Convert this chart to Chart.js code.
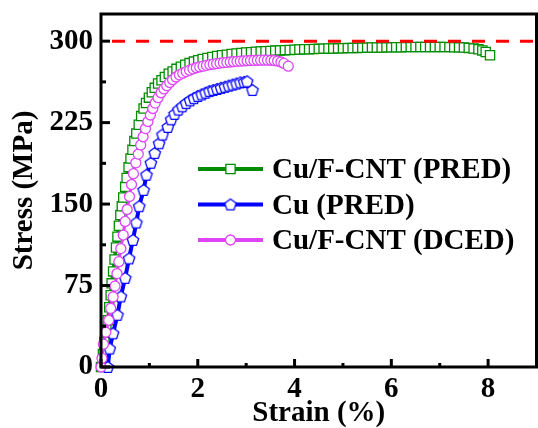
<!DOCTYPE html>
<html>
<head>
<meta charset="utf-8">
<script src="https://cdn.jsdelivr.net/npm/chart.js@4.4.1/dist/chart.umd.min.js"></script>
<style>
  html, body { margin: 0; padding: 0; background: #fff; }
  #wrap { width: 538px; height: 428px; }
</style>
</head>
<body>
<div id="wrap"><canvas id="c" width="538" height="428"></canvas></div>
<script>
// ---- data ----
const seriesNames = ['Cu/F-CNT (PRED)', 'Cu (PRED)', 'Cu/F-CNT (DCED)'];

const fcntPredStrain = [0.00,0.04,0.07,0.11,0.14,0.17,0.20,0.22,0.25,0.28,0.31,0.34,0.37,0.40,0.43,0.46,0.50,0.53,0.57,0.61,0.65,0.69,0.73,0.78,0.83,0.88,0.93,0.99,1.05,1.11,1.18,1.25,1.32,1.40,1.48,1.56,1.65,1.74,1.83,1.92,2.01,2.10,2.20,2.30,2.40,2.50,2.60,2.70,2.80,2.90,3.00,3.10,3.20,3.30,3.40,3.50,3.60,3.70,3.80,3.90,4.00,4.10,4.20,4.30,4.40,4.50,4.60,4.70,4.80,4.90,5.00,5.10,5.20,5.30,5.40,5.50,5.60,5.70,5.80,5.90,6.00,6.10,6.20,6.30,6.40,6.50,6.60,6.70,6.80,6.90,7.00,7.10,7.20,7.30,7.40,7.50,7.60,7.70,7.80,7.88,7.95,8.04];
const fcntPredStress = [0,12,23,34,43,55,66,77,88,99,110,120,130,140,148,156,166,174,184,192,200,208,215,223,231,238,243,248,253,257,261,264,267,270,272,274.5,276.5,278.3,279.8,281.2,282.5,283.6,284.6,285.5,286.3,287,287.6,288.2,288.7,289.1,289.5,289.9,290.2,290.5,290.8,291,291.3,291.5,291.7,291.9,292.1,292.3,292.5,292.6,292.8,292.9,293.1,293.2,293.3,293.4,293.5,293.6,293.7,293.8,293.9,294,294.1,294.2,294.2,294.3,294.3,294.4,294.4,294.5,294.5,294.6,294.6,294.6,294.6,294.6,294.6,294.6,294.5,294.4,294.3,294.1,293.8,293.3,292.6,291.5,290,287];

const cuPredStrain = [0.14,0.18,0.25,0.34,0.41,0.50,0.58,0.66,0.73,0.79,0.88,0.94,1.03,1.11,1.20,1.27,1.38,1.45,1.52,1.60,1.68,1.76,1.84,1.92,2.00,2.08,2.16,2.24,2.32,2.40,2.48,2.56,2.64,2.72,2.80,2.88,2.96,3.02,3.13];
const cuPredStress = [0,17,31,48,65,82,100,117,133,148,163,177,188,197,206,214,221,228,233,237,240,243,245.5,247.5,249.5,251,252.5,254,255,256,257,258,259,260,261,262,262.5,263,255];

const fcntDcedStrain = [0.00,0.02,0.05,0.10,0.16,0.20,0.25,0.29,0.33,0.37,0.41,0.46,0.50,0.54,0.59,0.63,0.67,0.72,0.77,0.82,0.87,0.92,0.97,1.02,1.07,1.12,1.18,1.24,1.30,1.36,1.42,1.48,1.55,1.62,1.69,1.76,1.83,1.90,1.97,2.04,2.11,2.18,2.25,2.32,2.39,2.46,2.53,2.60,2.67,2.74,2.81,2.88,2.95,3.02,3.09,3.16,3.23,3.30,3.37,3.44,3.51,3.58,3.65,3.72,3.78,3.87];
const fcntDcedStress = [0,8,21,32,43,54,64.5,74.5,86,97,109,121.5,134,145,157,168,178,188,196,204.5,212,219.5,226,232,238,243,248,252.5,256,259,262,264.5,267,269,270.5,272,273.3,274.5,275.5,276.3,277,277.7,278.3,278.8,279.3,279.8,280.2,280.5,280.8,281.1,281.4,281.6,281.8,282,282.2,282.3,282.4,282.5,282.5,282.5,282.4,282.2,281.7,280.8,279.5,277];

const refStrain = [0, 9];
const refStress = [300, 300];

const xTicks = [0, 2, 4, 6, 8];
const xMinorTicks = [1, 3, 5, 7];
const yTicks = [0, 75, 150, 225, 300];
const yMinorTicks = [37.5, 112.5, 187.5, 262.5];

// ---- styles ----
const GREEN = '#008c00', BLUE = '#0000ff', MAGENTA = '#dd45f7', RED = '#ff0000';
const FONT = "'Liberation Serif', 'Times New Roman', serif";

function pentagonCanvas(r, color, lw) {
  const s = Math.ceil(2 * r + 4);
  const cv = document.createElement('canvas');
  cv.width = s; cv.height = s;
  const c = cv.getContext('2d');
  const cx = s / 2, cy = s / 2 + 0.5;
  c.beginPath();
  for (let k = 0; k < 5; k++) {
    const a = -Math.PI / 2 + k * 2 * Math.PI / 5;
    const px = cx + r * Math.cos(a), py = cy + r * Math.sin(a);
    if (k === 0) c.moveTo(px, py); else c.lineTo(px, py);
  }
  c.closePath();
  c.fillStyle = '#fff'; c.fill();
  c.lineWidth = lw; c.strokeStyle = color; c.stroke();
  return cv;
}
const pent = pentagonCanvas(6, BLUE, 1.3);

function pts(xs, ys) { return xs.map((x, i) => ({ x: x, y: ys[i] })); }

const frameAndTicks = {
  id: 'frameAndTicks',
  afterDatasetsDraw(chart) {
    const ctx = chart.ctx, a = chart.chartArea;
    const xs = chart.scales.x, ys = chart.scales.y;
    ctx.save();
    ctx.strokeStyle = '#000';
    ctx.lineWidth = 3;
    ctx.lineCap = 'butt';
    const seg = (x1, y1, x2, y2) => { ctx.beginPath(); ctx.moveTo(x1, y1); ctx.lineTo(x2, y2); ctx.stroke(); };
    xTicks.forEach(v => { const p = xs.getPixelForValue(v); seg(p, a.bottom, p, a.bottom - 8); });
    xMinorTicks.forEach(v => { const p = xs.getPixelForValue(v); seg(p, a.bottom, p, a.bottom - 4); });
    yTicks.forEach(v => { const p = ys.getPixelForValue(v); seg(a.left, p, a.left + 9, p); });
    yMinorTicks.forEach(v => { const p = ys.getPixelForValue(v); seg(a.left, p, a.left + 5, p); });
    ctx.beginPath();
    ctx.rect(a.left, a.top, a.right - a.left, a.bottom - a.top);
    ctx.stroke();
    ctx.restore();
  },
  afterDraw(chart) {
    const ctx = chart.ctx;
    const rows = [169, 204.5, 240];
    const colors = [GREEN, BLUE, MAGENTA];
    ctx.save();
    rows.forEach((y, i) => {
      ctx.strokeStyle = colors[i];
      ctx.lineWidth = 4;
      ctx.beginPath(); ctx.moveTo(198, y); ctx.lineTo(263, y); ctx.stroke();
      const mx = 230.5;
      ctx.lineWidth = 1.3;
      ctx.fillStyle = '#fff';
      if (i === 0) {
        ctx.beginPath(); ctx.rect(mx - 4.6, y - 4.6, 9.2, 9.2); ctx.fill(); ctx.stroke();
      } else if (i === 1) {
        ctx.drawImage(pent, mx - pent.width / 2, y - pent.height / 2);
      } else {
        ctx.beginPath(); ctx.arc(mx, y, 5, 0, 2 * Math.PI); ctx.fill(); ctx.stroke();
      }
      ctx.fillStyle = '#000';
      ctx.font = 'bold 29px ' + FONT;
      ctx.textBaseline = 'middle';
      ctx.textAlign = 'left';
      ctx.fillText(seriesNames[i], 272, y + 2);
    });
    ctx.restore();
  }
};

new Chart(document.getElementById('c'), {
  type: 'scatter',
  data: {
    datasets: [
      {
        label: 'ref', data: pts(refStrain, refStress), showLine: true,
        borderColor: RED, borderWidth: 3, borderDash: [13, 11], borderDashOffset: 13,
        pointRadius: 0, order: 0
      },
      {
        label: seriesNames[2], data: pts(fcntDcedStrain, fcntDcedStress), showLine: true,
        borderColor: MAGENTA, borderWidth: 3, pointStyle: 'circle', pointRadius: 5,
        pointBorderWidth: 1.3, pointBorderColor: MAGENTA, pointBackgroundColor: '#fff',
        clip: false, order: 1
      },
      {
        label: seriesNames[1], data: pts(cuPredStrain, cuPredStress), showLine: true,
        borderColor: BLUE, borderWidth: 4, pointStyle: pent, pointRadius: 6,
        clip: false, order: 2
      },
      {
        label: seriesNames[0], data: pts(fcntPredStrain, fcntPredStress), showLine: true,
        borderColor: GREEN, borderWidth: 3.5, pointStyle: 'rect', pointRadius: 6.5,
        pointBorderWidth: 1.3, pointBorderColor: GREEN, pointBackgroundColor: '#fff',
        clip: false, order: 3
      }
    ]
  },
  options: {
    responsive: false,
    animation: false,
    devicePixelRatio: 1,
    layout: { autoPadding: false, padding: { top: 14, right: 1.5, left: 0, bottom: 0 } },
    plugins: { legend: { display: false }, tooltip: { enabled: false } },
    scales: {
      x: {
        type: 'linear', min: 0, max: 9,
        afterBuildTicks: s => { s.ticks = xTicks.map(v => ({ value: v })); },
        afterFit: s => { s.height = 61; s.paddingLeft = 0; s.paddingRight = 0; },
        grid: { display: false, drawTicks: false },
        border: { display: false },
        ticks: { padding: 5, color: '#000', font: { family: FONT, size: 29, weight: 'bold' } },
        title: { display: true, text: 'Strain (%)', color: '#000', padding: 0,
                 font: { family: FONT, size: 29, weight: 'bold', lineHeight: 1 } }
      },
      y: {
        type: 'linear', min: 0, max: 325,
        afterBuildTicks: s => { s.ticks = yTicks.map(v => ({ value: v })); },
        afterFit: s => { s.width = 101; s.paddingTop = 0; s.paddingBottom = 0; },
        grid: { display: false, drawTicks: false },
        border: { display: false },
        ticks: { padding: 8, color: '#000', font: { family: FONT, size: 29, weight: 'bold' } },
        title: { display: true, text: 'Stress (MPa)', color: '#000', padding: { top: 7, bottom: 0 },
                 font: { family: FONT, size: 29, weight: 'bold' } }
      }
    }
  },
  plugins: [frameAndTicks]
});
</script>
</body>
</html>
